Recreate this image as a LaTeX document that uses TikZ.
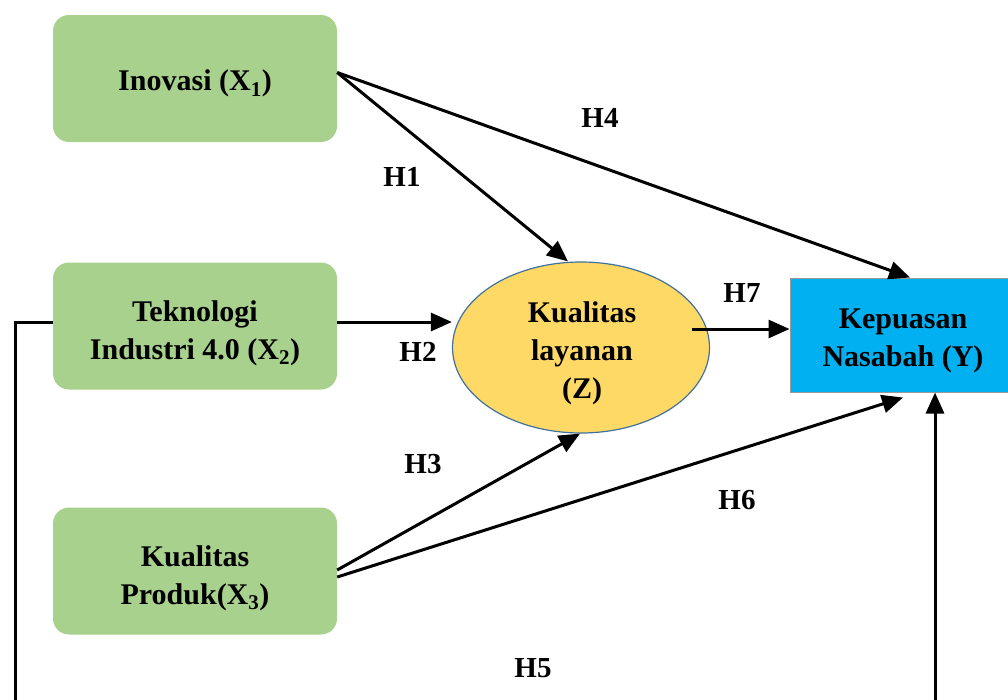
\documentclass[tikz,border=0pt]{standalone}
\usepackage{fontspec}
\setmainfont{Liberation Serif}
\usetikzlibrary{shapes.geometric,arrows.meta,calc}
\definecolor{boxgreen}{HTML}{A9D18E}
\definecolor{ellyellow}{HTML}{FFD966}
\definecolor{ellborder}{HTML}{41719C}
\definecolor{ycyan}{HTML}{00B0F0}
\tikzset{
  xbox/.style={rectangle, rounded corners=16pt, fill=boxgreen, minimum width=284pt, minimum height=127pt, inner sep=0pt},
  zell/.style={ellipse, fill=ellyellow, draw=ellborder, line width=1.2pt, minimum width=257pt, minimum height=171pt, inner sep=0pt},
  ybox/.style={rectangle, fill=ycyan, draw=gray!80, line width=1pt, minimum width=226pt, minimum height=114pt, inner sep=0pt},
  arr/.style={line width=3pt, -{Triangle[length=21pt,width=18pt]}},
  ln/.style={line width=3pt},
  hlab/.style={font=\fontsize{29}{34}\selectfont\bfseries, inner sep=0pt},
  txt/.style={font=\fontsize{30}{38}\selectfont\bfseries, align=center, inner sep=0pt}
}
\begin{document}
\begin{tikzpicture}[x=1pt,y=-1pt]
\useasboundingbox (0,0) rectangle (1008,699);
\node[xbox] (x1) at (195,78.5) {};
\node[xbox] (x2) at (195,326) {};
\node[xbox] (x3) at (195,571) {};
\node[zell] (z) at (581,347.5) {};
\node[ybox] (y) at (903,335) {};

\node[txt] (x1t) at ($(x1)+(0,5)$) {Inovasi (X\textsubscript{1})};
\node[txt] (x2t) at ($(x2)+(0,7)$) {Teknologi\\Industri 4.0 (X\textsubscript{2})};
\node[txt] (x3t) at ($(x3)+(0,7)$) {Kualitas\\Produk(X\textsubscript{3})};
\node[txt] (zt) at ($(z)+(1,6)$) {Kualitas\\layanan\\(Z)};
\node[txt] (yt) at ($(y)+(0,6)$) {Kepuasan\\Nasabah (Y)};

\coordinate (bl) at (15,702);
\coordinate (br) at (935,702);

% H1
\draw[arr] ($(x1.east)+(0,-6)$) -- ($(z.north)+(-13,0)$);
% H4
\draw[arr] ($(x1.east)+(0,-6)$) -- ($(y.north)+(7,0)$);
% H2
\draw[arr] ($(x2.east)+(0,-4)$) -- ($(z.west)+(0,-25.5)$);
% H7
\draw[arr] ($(z.east)+(-18,-18.5)$) -- ($(y.west)+(0,-6)$);
% H3
\draw[arr] ($(x3.east)+(0,-1)$) -- ($(z.south)+(-1,0)$);
% H6
\draw[arr] ($(x3.east)+(0,6)$) -- ($(y.south)+(0,5)$);
% H5
\draw[ln] ($(x2.west)+(0,-4)$) -| (bl);
\draw[arr] (br) -- ($(y.south)+(32,0)$);

\node[hlab] (h1) at (402,177) {H1};
\node[hlab] (h4) at (600,118) {H4};
\node[hlab] (h2) at (418,352) {H2};
\node[hlab] (h7) at (742,293) {H7};
\node[hlab] (h3) at (423,464) {H3};
\node[hlab] (h6) at (737,500) {H6};
\node[hlab] (h5) at (533,668) {H5};
\end{tikzpicture}
\end{document}
